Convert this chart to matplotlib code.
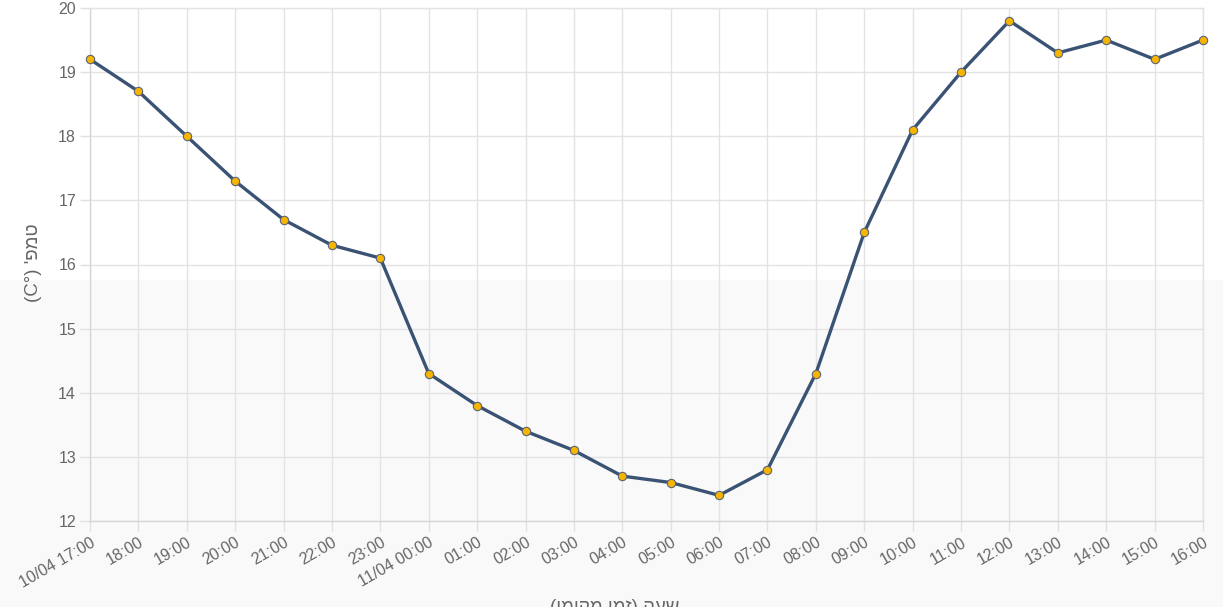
import matplotlib
matplotlib.use("Agg")
import matplotlib.pyplot as plt
from matplotlib.patches import Rectangle

plt.rcParams['font.family'] = ['Liberation Sans', 'DejaVu Sans']

hours = ["10/04 17:00", "18:00", "19:00", "20:00", "21:00", "22:00", "23:00",
         "11/04 00:00", "01:00", "02:00", "03:00", "04:00", "05:00", "06:00",
         "07:00", "08:00", "09:00", "10:00", "11:00", "12:00", "13:00",
         "14:00", "15:00", "16:00"]
temps = [19.2, 18.7, 18.0, 17.3, 16.7, 16.3, 16.1, 14.3, 13.8, 13.4, 13.1,
         12.7, 12.6, 12.4, 12.8, 14.3, 16.5, 18.1, 19.0, 19.8, 19.3, 19.5,
         19.2, 19.5]
y_ticks = [12, 13, 14, 15, 16, 17, 18, 19, 20]
y_label = "(C°) 'פמט"
x_label = "(ימוקמ ןמז) העש"

W, H = 1223, 607
fig = plt.figure(figsize=(W / 100, H / 100), dpi=100)
fig.patch.set_facecolor('white')
# lower light-grey page band
fig.patches.append(Rectangle((0, 0), 1, (H - 280) / H, transform=fig.transFigure,
                             facecolor='#f9f9f9', edgecolor='none', zorder=-10))

ax = fig.add_axes([90 / W, (H - 521) / H, (1203 - 90) / W, (521 - 8) / H])
ax.set_facecolor('none')

x = list(range(len(hours)))
ax.plot(x, temps, color='#3a5374', linewidth=2.4, zorder=3, clip_on=False,
        marker='o', markersize=6, markerfacecolor='#f7b500',
        markeredgecolor='#5a6478', markeredgewidth=0.8)

ax.set_xlim(0, len(hours) - 1)
ax.set_ylim(12, 20)
ax.set_xticks(x)
ax.set_xticklabels(hours, rotation=30, ha='right', rotation_mode='anchor')
ax.set_yticks(y_ticks)
ax.grid(True, color='#e3e3e3', linewidth=1)
for s in ax.spines.values():
    s.set_color('#e3e3e3')
    s.set_linewidth(1)
ax.spines['left'].set_color('#d6d6d6')
ax.spines['bottom'].set_color('#d6d6d6')
ax.tick_params(axis='both', colors='#666666', labelsize=11.5, width=1)
ax.tick_params(axis='both', color='#e0e0e0')
ax.tick_params(axis='x', length=7, pad=3)
ax.tick_params(axis='y', length=7, pad=3)

fig.text(33 / W, (H - 263) / H, y_label, rotation=90, ha='center', va='center',
         fontsize=13.5, color='#666666')
fig.text(615 / W, (H - 599) / H, x_label, ha='center', va='top',
         fontsize=13.5, color='#666666')

fig.savefig('out.png', dpi=100)
